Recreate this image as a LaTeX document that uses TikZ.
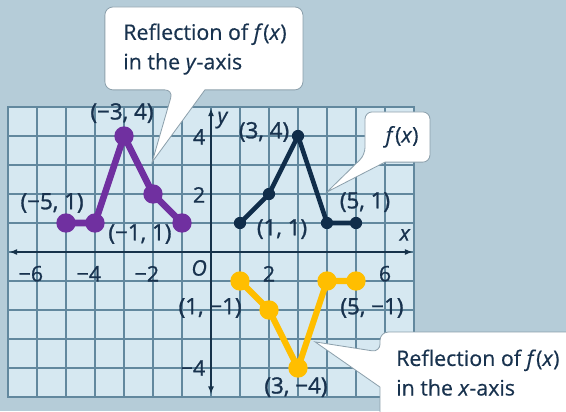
\documentclass[tikz,border=0pt]{standalone}
\usepackage{fontspec}
\setmainfont{Open Sans}
\usetikzlibrary{arrows}

\definecolor{bg}{RGB}{181,204,216}
\definecolor{gridfill}{RGB}{214,232,241}
\definecolor{gridline}{RGB}{98,136,158}
\definecolor{axiscol}{RGB}{22,50,74}
\definecolor{fnavy}{RGB}{16,45,74}
\definecolor{refy}{RGB}{112,48,160}
\definecolor{refx}{RGB}{255,190,0}
\definecolor{labeltext}{RGB}{24,50,78}
\definecolor{calloutline}{RGB}{140,160,172}

\tikzset{
  ptlabel/.style={inner sep=0pt,text=labeltext,font=\fontsize{22}{26}\selectfont\addfontfeature{FakeBold=1.2}},
  ticklabel/.style={inner sep=0pt,text=labeltext,font=\fontsize{21}{25}\selectfont\addfontfeature{FakeBold=0.8}},
  fdot/.style={circle,fill=fnavy,inner sep=0pt,minimum size=12pt},
  ydot/.style={circle,fill=refy,inner sep=0pt,minimum size=19pt},
  xdot/.style={circle,fill=refx,inner sep=0pt,minimum size=19pt},
  fline/.style={draw=fnavy,line width=4.5pt,line join=round},
  yline/.style={draw=refy,line width=6.5pt,line join=round},
  xline/.style={draw=refx,line width=6pt,line join=round},
  callout/.style={draw=calloutline,fill=white,line width=0.8pt},
  callouttext/.style={align=left,inner sep=0pt,text=labeltext,font=\fontsize{21}{29}\selectfont\addfontfeature{FakeBold=0.4}}
}

\begin{document}
\begin{tikzpicture}
        \useasboundingbox (-7.276,-5.483) rectangle (12.241,8.690);
        \clip (-7.276,-5.483) rectangle (12.241,8.690);
        \fill[bg] (-7.276,-5.483) rectangle (12.241,8.690);
        % grid and axes
        \fill[gridfill] (-7,-5) rectangle (7,5);
        \draw[gridline,line width=1.2pt] (-7,-5) grid (7,5);
        \draw[gridline,line width=2pt] (-7,-5) rectangle (7,5);
        \draw[axiscol,line width=1.6pt,latex-latex] (-6.95,0) -- (6.95,0);
        \draw[axiscol,line width=1.6pt,latex-latex] (0,-4.9) -- (0,4.95);
        \node[ticklabel] (xm6) at (-6,-0.75) {\llap{−}6};
        \node[ticklabel] (xm4) at (-4,-0.75) {\llap{−}4};
        \node[ticklabel] (xm2) at (-2,-0.75) {\llap{−}2};
        \node[ticklabel] (x2) at (2,-0.75) {2};
        \node[ticklabel] (x6) at (6,-0.75) {6};
        \node[ticklabel] (y4) at (-0.41,3.97) {4};
        \node[ticklabel] (y2) at (-0.41,1.97) {2};
        \node[ticklabel] (ym4) at (-0.41,-4.0) {\llap{−}4};
        \node[ticklabel] (orig) at (-0.41,-0.55) {\textit{O}};
        \node[ticklabel] (xname) at (6.69,0.59) {\textit{x}};
        \node[ticklabel] (yname) at (0.41,4.55) {\textit{y}};
        % f(x)
        \node[fdot] (f1) at (1,1){};
        \node[fdot] (f2) at (2,2){};
        \node[fdot] (f3) at (3,4){};
        \node[fdot] (f4) at (4,1){};
        \node[fdot] (f5) at (5,1){};
        \draw[fline] (f1.center) -- (f2.center) -- (f3.center) -- (f4.center) -- (f5.center);
        % reflection in the y-axis
        \node[ydot] (g1) at (-1,1){};
        \node[ydot] (g2) at (-2,2){};
        \node[ydot] (g3) at (-3,4){};
        \node[ydot] (g4) at (-4,1){};
        \node[ydot] (g5) at (-5,1){};
        \draw[yline] (g1.center) -- (g2.center) -- (g3.center) -- (g4.center) -- (g5.center);
        % reflection in the x-axis
        \node[xdot] (h1) at (1,-1){};
        \node[xdot] (h2) at (2,-2){};
        \node[xdot] (h3) at (3,-4){};
        \node[xdot] (h4) at (4,-1){};
        \node[xdot] (h5) at (5,-1){};
        \draw[xline] (h1.center) -- (h2.center) -- (h3.center) -- (h4.center) -- (h5.center);
        % point labels
        \node[ptlabel] (lg3) at (-3.07,4.79) {(−3, 4)};
        \node[ptlabel] (lg5) at (-5.48,1.69) {(−5, 1)};
        \node[ptlabel] (lg1) at (-2.45,0.62) {(−1, 1)};
        \node[ptlabel] (lf3) at (1.83,4.14) {(3, 4)};
        \node[ptlabel] (lf1) at (2.45,0.79) {(1, 1)};
        \node[ptlabel] (lf5) at (5.31,1.72) {(5, 1)};
        \node[ptlabel] (lh1) at (-0.03,-1.93) {(1, −1)};
        \node[ptlabel] (lh5) at (5.55,-1.93) {(5, −1)};
        \node[ptlabel] (lh3) at (2.93,-4.66) {(3, −4)};
        % callouts
        \draw[callout] (-1.31,5.59) [sharp corners] -- (-2.03,3.10) -- (-0.21,5.59) [rounded corners=8pt] -- (3.17,5.59) -- (3.17,8.45) -- (-3.66,8.45) -- (-3.66,5.59) -- cycle;
        \node[callouttext,anchor=west] (cy) at (-3.03,7.0) {Reflection of \textit{f}(\textit{x})\\in the \textit{y}-axis};
        \draw[callout] (5.31,3.35) [sharp corners] -- (4.0,2.07) -- (6.0,3.10) [rounded corners=7pt] -- (7.55,3.10) -- (7.55,4.83) -- (5.31,4.83) -- cycle;
        \node[callouttext] (cf) at (6.59,3.97) {\textit{f}(\textit{x})};
        \draw[callout] (5.83,-3.45) [sharp corners] -- (3.59,-3.10) -- (5.83,-4.66) [rounded corners=8pt] -- (5.83,-6.2) -- (13,-6.2) -- (13,-2.76) -- (5.83,-2.76) -- cycle;
        \node[callouttext,anchor=west] (cx) at (6.38,-4.16) {Reflection of \textit{f}(\textit{x})\\in the \textit{x}-axis};
\end{tikzpicture}
\end{document}
